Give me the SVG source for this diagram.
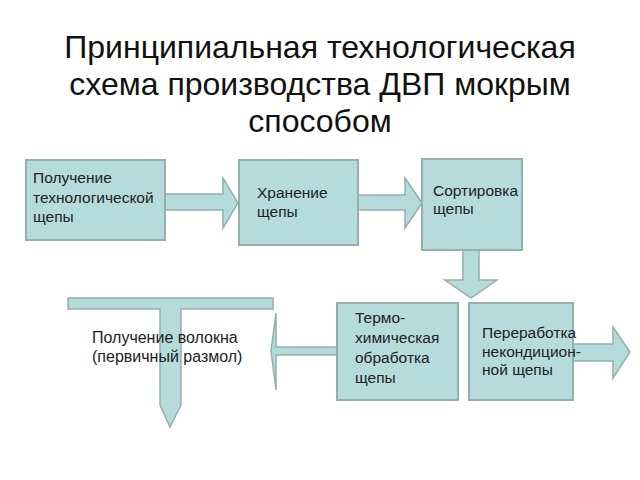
<svg xmlns="http://www.w3.org/2000/svg" width="640" height="480" viewBox="0 0 640 480">
<style>
.box{fill:#b5dbdd;stroke:#95aeae;stroke-width:2}
.arr{fill:#b5dbdd;stroke:#95aeae;stroke-width:1.5;stroke-linejoin:miter}
.t{font-family:"Liberation Sans",Arial,sans-serif;font-size:15.5px;fill:#222}
.title{font-family:"Liberation Sans",Arial,sans-serif;font-size:32px;fill:#111;text-anchor:middle}
</style>
<rect width="640" height="480" fill="#fff"/>
<g id="title">
<text class="title" x="320" y="58">Принципиальная технологическая</text>
<text class="title" x="320" y="95">схема производства ДВП мокрым</text>
<text class="title" x="320" y="132">способом</text>
</g>
<g id="connectors">
<polygon class="arr" points="165,194 223,194 223,178 238,203 223,228 223,210 165,210"/>
<polygon class="arr" points="358,195 405,195 405,178 422,203 405,228 405,210 358,210"/>
<polygon class="arr" points="463,250 479,250 479,280 497,280 471,298 445,280 463,280"/>
<polygon class="arr" points="573,344 613,344 613,327 630,352 613,378 613,361 573,361"/>
<polygon class="arr" points="337,347 276,347 276,313 271,351 276,390 276,355 337,355"/>
<polygon id="tee" class="arr" points="68,298 273,298 273,309 181,309 181,405 170,427 160,405 160,309 68,309"/>
</g>
<g id="n1">
<rect class="box" x="26" y="160" width="139" height="80"/>
<text class="t" x="33" y="183">Получение</text>
<text class="t" x="33" y="203">технологической</text>
<text class="t" x="33" y="222">щепы</text>
</g>
<g id="n2">
<rect class="box" x="239" y="160" width="119" height="85"/>
<text class="t" x="257" y="198">Хранение</text>
<text class="t" x="257" y="217">щепы</text>
</g>
<g id="n3">
<rect class="box" x="422" y="159" width="100" height="91"/>
<text class="t" x="433" y="196">Сортировка</text>
<text class="t" x="433" y="214">щепы</text>
</g>
<g id="n4">
<rect class="box" x="337" y="303" width="121" height="97"/>
<text class="t" x="355" y="323">Термо-</text>
<text class="t" x="355" y="343">химическая</text>
<text class="t" x="355" y="363">обработка</text>
<text class="t" x="355" y="383">щепы</text>
</g>
<g id="n5">
<rect class="box" x="469" y="303" width="104" height="97"/>
<text class="t" x="482" y="338">Переработка</text>
<text class="t" x="482" y="357">некондицион-</text>
<text class="t" x="482" y="375">ной щепы</text>
</g>
<g id="n6">
<text class="t" x="92" y="343" style="font-size:16px">Получение волокна</text>
<text class="t" x="92" y="362" style="font-size:16px">(первичный размол)</text>
</g>
</svg>
